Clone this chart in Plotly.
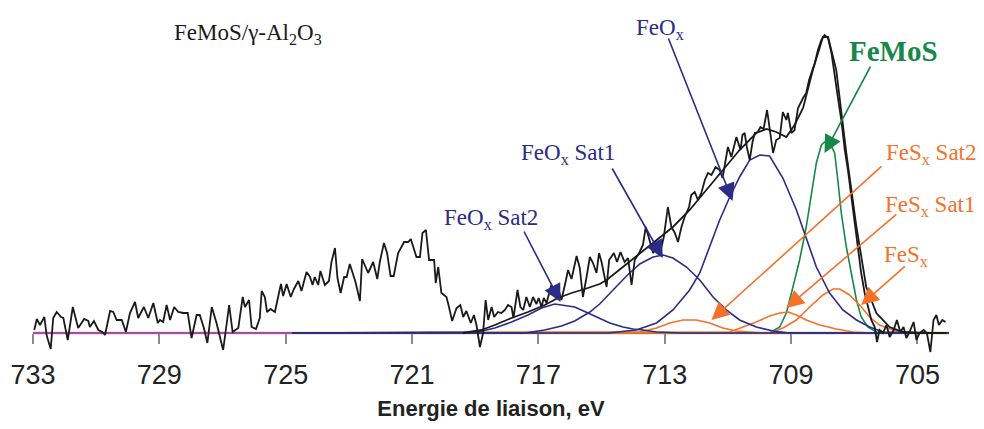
import plotly.graph_objects as go

# ---------------- data ----------------
energy_data = [732.96, 732.88, 732.78, 732.64, 732.57, 732.44, 732.36, 732.25, 732.11, 732.04,
               731.90, 731.74, 731.57, 731.38, 731.25, 731.20, 731.07, 730.93, 730.81, 730.72,
               730.56, 730.46, 730.35, 730.19, 730.06, 729.93, 729.77, 729.67, 729.49, 729.35,
               729.19, 729.05, 728.98, 728.88, 728.77, 728.66, 728.53, 728.40, 728.24, 728.10,
               727.98, 727.82, 727.72, 727.59, 727.48, 727.34, 727.19, 727.14, 726.98, 726.79,
               726.68, 726.50, 726.36, 726.29, 726.16, 726.08, 725.94, 725.82, 725.76, 725.66,
               725.59, 725.48, 725.34, 725.24, 725.15, 725.08, 724.97, 724.84, 724.74, 724.60,
               724.50, 724.34, 724.23, 724.15, 724.08, 723.97, 723.90, 723.76, 723.63, 723.55,
               723.44, 723.36, 723.26, 723.15, 723.07, 722.97, 722.79, 722.65, 722.58, 722.39,
               722.23, 722.10, 722.02, 721.89, 721.79, 721.68, 721.58, 721.44, 721.25, 721.12,
               721.04, 720.86, 720.75, 720.67, 720.56, 720.46, 720.30, 720.25, 720.17, 720.07,
               719.91, 719.83, 719.73, 719.59, 719.47, 719.38, 719.28, 719.14, 719.04, 718.96,
               718.85, 718.75, 718.67, 718.59, 718.48, 718.40, 718.28, 718.17, 718.06, 717.96,
               717.85, 717.79, 717.66, 717.57, 717.48, 717.38, 717.27, 717.17, 717.06, 716.99,
               716.90, 716.83, 716.74, 716.59, 716.48, 716.38, 716.27, 716.14, 716.06, 715.95,
               715.79, 715.69, 715.59, 715.48, 715.37, 715.27, 715.16, 715.08, 715.00, 714.84,
               714.76, 714.61, 714.51, 714.40, 714.27, 714.16, 714.05, 713.95, 713.81, 713.69,
               713.60, 713.50, 713.37, 713.26, 713.14, 713.03, 712.90, 712.79, 712.68, 712.58,
               712.47, 712.37, 712.23, 712.16, 712.05, 711.95, 711.84, 711.73, 711.63, 711.52,
               711.39, 711.26, 711.17, 711.07, 711.00, 710.89, 710.82, 710.73, 710.60, 710.54,
               710.47, 710.40, 710.31, 710.22, 710.15, 710.05, 709.97, 709.87, 709.76, 709.68,
               709.57, 709.47, 709.36, 709.26, 709.15, 709.10, 708.99, 708.89, 708.78, 708.62,
               708.52, 708.43, 708.36, 708.25, 708.15, 708.04, 707.94, 707.83, 707.72, 707.62,
               707.52, 707.41, 707.30, 707.20, 707.09, 706.99, 706.88, 706.78, 706.67, 706.57,
               706.46, 706.35, 706.28, 706.20, 706.09, 705.98, 705.88, 705.75, 705.65, 705.54,
               705.44, 705.35, 705.25, 705.12, 705.03, 704.93, 704.80, 704.70, 704.59, 704.49,
               704.40, 704.32, 704.21, 704.11]
intensity_data = [3, 14, 8, 16, -2, -16, 15, 21, 16, 15,
                  -7, 26, 5, 14, 12, 6, 12, 3, 1, -2,
                  22, 21, 13, 13, 1, 20, 31, 15, 26, 15,
                  30, 10, 13, 11, 28, 13, 26, 21, 20, 20,
                  -5, 18, 18, 5, -10, 26, 10, 3, -17, 28,
                  1, 5, 36, 26, 33, 6, 4, 15, 42, 36,
                  21, 24, 21, 36, 49, 37, 49, 36, 44, 52,
                  42, 61, 56, 48, 56, 48, 62, 48, 52, 71,
                  85, 55, 40, 56, 56, 69, 51, 32, 74, 60,
                  71, 54, 71, 90, 80, 57, 57, 80, 91, 91,
                  94, 76, 76, 100, 103, 73, 73, 50, 66, 40,
                  36, 26, 12, 25, 28, 16, 22, 10, 18, 8,
                  -14, 0, 33, 13, 26, 16, 21, 20, 23, 28,
                  26, 15, 43, 26, 23, 36, 26, 36, 29, 35,
                  26, 35, 30, 48, 40, 45, 33, 51, 63, 54,
                  77, 65, 36, 55, 76, 70, 60, 80, 71, 46,
                  73, 80, 71, 81, 71, 75, 48, 73, 80, 88,
                  106, 95, 80, 86, 81, 96, 126, 106, 100, 91,
                  106, 116, 126, 138, 141, 133, 140, 153, 160, 158,
                  166, 163, 155, 173, 186, 176, 186, 196, 183, 198,
                  200, 186, 173, 191, 200, 201, 206, 204, 223, 205,
                  180, 193, 195, 221, 213, 220, 200, 203, 225, 235,
                  240, 253, 260, 270, 283, 293, 298, 295, 280, 260,
                  236, 213, 183, 163, 136, 113, 86, 60, 40, 26,
                  13, 6, -9, 3, 0, 8, -4, 3, 13, 1,
                  6, -5, 1, 11, -7, 0, 3, 0, -19, 13,
                  18, 8, 13, 11]

energy_fit = [719.39, 718.80, 718.38, 717.85, 717.33, 716.80, 716.38, 715.95, 715.53, 715.06,
              714.84, 714.32, 713.79, 713.26, 712.74, 712.21, 711.68, 711.16, 710.63, 710.10,
              709.78, 709.47, 709.15, 708.89, 708.62, 708.31, 707.99, 707.83, 707.57, 707.25,
              706.93, 706.62, 706.30, 705.88, 705.46, 704.93, 704.09]
intensity_fit = [0, 3, 8, 15, 21, 28, 35, 40, 44, 49,
                 53, 66, 80, 93, 106, 123, 143, 163, 183, 200,
                 204, 201, 196, 208, 225, 263, 296, 296, 263, 180,
                 106, 46, 20, 6, 1, 0, 0]

energy_feox = [724.80, 714.80, 713.90, 713.26, 712.74, 712.21, 711.89, 711.58, 711.26, 710.94,
               710.63, 710.31, 709.99, 709.68, 709.26, 708.83, 708.52, 708.20, 707.78, 707.36,
               706.93, 706.51, 706.09, 704.00]
intensity_feox = [0, 0, 3, 10, 23, 43, 60, 86, 113, 136,
                  156, 173, 178, 177, 155, 123, 96, 66, 40, 23,
                  13, 6, 1, 0]

energy_feox_sat1 = [724.80, 717.43, 716.80, 716.27, 715.85, 715.37, 715.06, 714.64, 714.21, 713.79,
                    713.37, 713.05, 712.74, 712.31, 711.89, 711.47, 711.05, 710.63, 710.10, 709.57,
                    709.04, 704.00]
intensity_feox_sat1 = [0, 0, 3, 7, 12, 21, 29, 43, 57, 69,
                       76, 78, 75, 66, 53, 36, 23, 13, 6, 2,
                       0, 0]

energy_feox_sat2 = [724.80, 718.91, 718.38, 717.85, 717.33, 716.90, 716.48, 716.27, 715.85, 715.43,
                    715.06, 714.74, 714.32, 714.00, 713.69, 713.26, 712.53, 704.00]
intensity_feox_sat2 = [0, 1, 5, 11, 18, 25, 29, 28, 26, 20,
                       15, 10, 6, 4, 3, 1, 0, 0]

energy_femos = [724.80, 709.68, 709.36, 709.15, 708.94, 708.73, 708.52, 708.36, 708.20, 708.04,
                707.94, 707.78, 707.62, 707.52, 707.41, 707.25, 707.09, 706.93, 706.78, 706.57,
                706.30, 705.88, 704.00]
intensity_femos = [0, 0, 6, 20, 46, 73, 106, 140, 170, 188,
                   191, 190, 180, 153, 120, 86, 60, 33, 16, 6,
                   1, 0, 0]

energy_fesx = [724.80, 709.68, 709.26, 708.83, 708.41, 707.99, 707.67, 707.46, 707.15, 706.83,
               706.51, 706.20, 705.78, 705.25, 704.00]
intensity_fesx = [0, 0, 5, 13, 26, 38, 44, 44, 38, 28,
                  16, 8, 3, 0, 0]

energy_fesx_sat1 = [724.80, 710.94, 710.52, 710.10, 709.68, 709.36, 709.10, 708.83, 708.52, 708.09,
                    707.57, 707.04, 706.51, 704.00]
intensity_fesx_sat1 = [0, 1, 6, 11, 17, 20, 21, 18, 13, 8,
                       4, 1, 0, 0]

energy_fesx_sat2 = [724.80, 713.79, 713.26, 712.84, 712.42, 712.00, 711.58, 711.16, 710.73, 710.31,
                    709.84, 704.00]
intensity_fesx_sat2 = [0, 1, 5, 10, 13, 13, 10, 5, 2, 1,
                       0, 0]

energy_base = [733.0, 704.0]
intensity_base = [0, 0]
energy_bg = [733.0, 724.8]
intensity_bg = [0, 0]

tick_values = [733, 729, 725, 721, 717, 713, 709, 705]
tick_labels = ["733", "729", "725", "721", "717", "713", "709", "705"]

# ---------------- styles ----------------
NAVY = "#2B2C85"
GREEN = "#16884A"
ORANGE = "#F5712A"
BLACK = "#1A1A1A"
SERIF = "Liberation Serif, Times New Roman, serif"
SANS = "Liberation Sans, Arial, sans-serif"

fig = go.Figure()


def add_line(x, y, color, width):
    fig.add_trace(go.Scatter(x=x, y=y, mode="lines",
                             line=dict(color=color, width=width),
                             hoverinfo="skip", showlegend=False))


add_line(energy_base, intensity_base, "#B89A6A", 2.5)
add_line(energy_bg, intensity_bg, "#A64CA6", 2)
add_line(energy_femos, intensity_femos, GREEN, 1.6)
add_line(energy_fesx, intensity_fesx, ORANGE, 1.6)
add_line(energy_fesx_sat1, intensity_fesx_sat1, ORANGE, 1.6)
add_line(energy_fesx_sat2, intensity_fesx_sat2, ORANGE, 1.6)
add_line(energy_feox_sat2, intensity_feox_sat2, NAVY, 1.6)
add_line(energy_feox_sat1, intensity_feox_sat1, NAVY, 1.6)
add_line(energy_feox, intensity_feox, NAVY, 1.6)
add_line(energy_fit, intensity_fit, BLACK, 1.8)
add_line(energy_data, intensity_data, BLACK, 1.8)

# ---------------- labels ----------------
labels = [
    ("FeMoS/γ-Al<sub>2</sub>O<sub>3</sub>", 728.60, 299, "left", BLACK, 23),
    ("FeO<sub>x</sub>", 713.16, 304, "center", NAVY, 23),
    ("<b>FeMoS</b>", 705.75, 282, "center", GREEN, 29),
    ("FeO<sub>x</sub> Sat1", 716.07, 179, "center", NAVY, 23),
    ("FeO<sub>x</sub> Sat2", 718.51, 114, "center", NAVY, 23),
    ("FeS<sub>x</sub> Sat2", 704.58, 179, "center", ORANGE, 23),
    ("FeS<sub>x</sub> Sat1", 704.61, 127, "center", ORANGE, 23),
    ("FeS<sub>x</sub>", 705.37, 77, "center", ORANGE, 23),
]
for text, x, y, anchor, color, size in labels:
    fig.add_annotation(x=x, y=y, xref="x", yref="y", text=text, showarrow=False,
                       xanchor=anchor, yanchor="middle",
                       font=dict(family=SERIF, size=size, color=color))

arrows = [
    # tip x, tip y, tail x, tail y, color
    (710.85, 132, 712.90, 296, NAVY),
    (713.06, 75, 714.69, 166, NAVY),
    (716.30, 31, 717.48, 103, NAVY),
    (707.94, 180, 706.46, 268, GREEN),
    (711.52, 13, 706.09, 168, ORANGE),
    (709.15, 25, 705.62, 120, ORANGE),
    (706.78, 28, 705.35, 68, ORANGE),
]
for tx, ty, sx, sy, color in arrows:
    fig.add_annotation(x=tx, y=ty, xref="x", yref="y", ax=sx, ay=sy,
                       axref="x", ayref="y", text="", showarrow=True,
                       arrowhead=2, arrowsize=2.2, arrowwidth=1.6,
                       arrowcolor=color, standoff=0, startstandoff=0)

fig.update_layout(
    width=976, height=421,
    margin=dict(l=25, r=35, t=12, b=69),
    paper_bgcolor="white", plot_bgcolor="white",
    showlegend=False,
    xaxis=dict(range=[733, 704], tickmode="array", tickvals=tick_values,
               ticktext=tick_labels, ticks="outside", ticklen=10, tickwidth=1.5,
               tickcolor="#8A8A8A", showline=True, linecolor="#8A8A8A", linewidth=1.5,
               showgrid=False, zeroline=False, anchor="free", position=0.0794,
               layer="below traces", automargin=False, ticklabelstandoff=8,
               tickfont=dict(family=SANS, size=27, color="#222222"),
               title=dict(text="<b>Energie de liaison, eV</b>", standoff=10,
                          font=dict(family=SANS, size=22, color="#222222"))),
    yaxis=dict(range=[-27, 313], visible=False, showgrid=False, zeroline=False),
)

fig.write_html("out.html")
